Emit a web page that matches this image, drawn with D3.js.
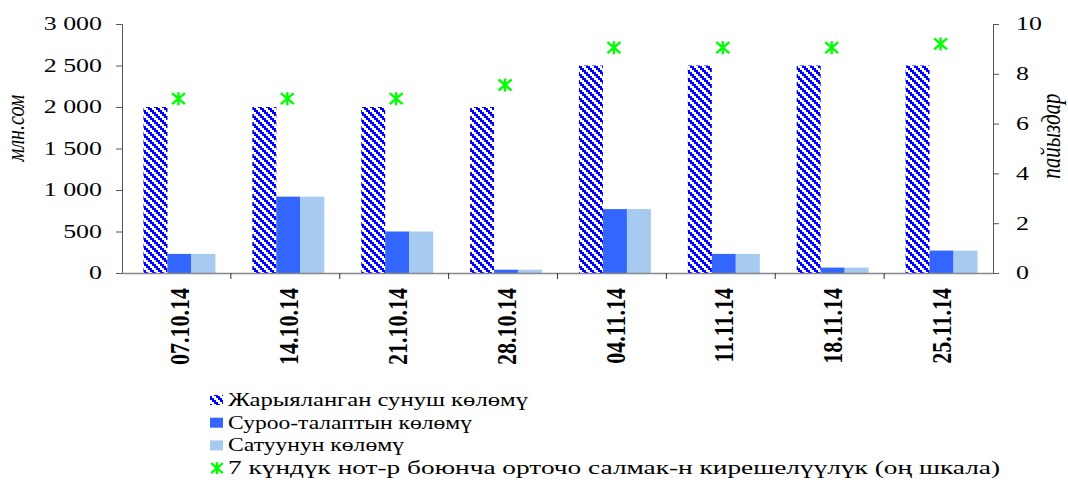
<!DOCTYPE html>
<html>
<head>
<meta charset="utf-8">
<script src="https://cdn.jsdelivr.net/npm/d3@7"></script>
<style>
  body { margin: 0; background: #fff; }
</style>
</head>
<body>
<div id="chart"></div>
<script>
// data
var dates = ["07.10.14", "14.10.14", "21.10.14", "28.10.14", "04.11.14", "11.11.14", "18.11.14", "25.11.14"];
var offer = [2000, 2000, 2000, 2000, 2500, 2500, 2500, 2500];
var demand = [230, 920, 500, 40, 770, 230, 65, 270];
var sales = [230, 920, 500, 40, 770, 230, 65, 270];
var yieldRate = [7.0, 7.0, 7.0, 7.55, 9.05, 9.05, 9.05, 9.2];
var leftTicks = [0, 500, 1000, 1500, 2000, 2500, 3000];
var rightTicks = [0, 2, 4, 6, 8, 10];
var legendNames = [
  "Жарыяланган сунуш көлөмү",
  "Суроо-талаптын көлөмү",
  "Сатуунун көлөмү",
  "7 күндүк нот-р боюнча орточо салмак-н кирешелүүлүк (оң шкала)"
];
// drawn widths of the legend lines (the source font runs wide)
var legendWidths = [300, 244, 176, 772];

var W = 1068, H = 482;
var mLeft = 122, mRight = 993, mTop = 24, mBottom = 273;
var serif = "'Liberation Serif', 'Times New Roman', serif";
var sx = 1.4; // the original text is drawn wide
var sxRot = 1.25;

var svg = d3.select("#chart").append("svg")
  .attr("width", W)
  .attr("height", H)
  .attr("font-family", serif);

// stair-step hatch for the offered volume
var defs = svg.append("defs");
var pat = defs.append("pattern")
  .attr("id", "hatch")
  .attr("patternUnits", "userSpaceOnUse")
  .attr("width", 8)
  .attr("height", 8);
pat.append("rect").attr("width", 8).attr("height", 8).attr("fill", "#fff");
[[0, 0], [2, 2], [4, 4], [6, 6], [-2, 6]].forEach(function (p) {
  pat.append("rect").attr("x", p[0]).attr("y", p[1]).attr("width", 4).attr("height", 2)
    .attr("fill", "#0000ff").attr("shape-rendering", "crispEdges");
});

var x = d3.scaleBand().domain(dates).range([mLeft, mRight]).paddingInner(0).paddingOuter(0);
var inner = d3.scaleBand().domain([0, 1, 2]).range([0, x.bandwidth()]).paddingInner(0).paddingOuter(0.77);
var yL = d3.scaleLinear().domain([0, 3000]).range([mBottom, mTop]);
var yR = d3.scaleLinear().domain([0, 10]).range([mBottom, mTop]);

var series = [
  { vals: offer, fill: "url(#hatch)" },
  { vals: demand, fill: "#3366ff" },
  { vals: sales, fill: "#a6caf0" }
];

series.forEach(function (s, i) {
  svg.append("g").selectAll("rect")
    .data(s.vals)
    .join("rect")
    .attr("x", function (d, j) { return x(dates[j]) + inner(i) + 3; })
    .attr("y", function (d) { return yL(d); })
    .attr("width", inner.bandwidth())
    .attr("height", function (d) { return mBottom - yL(d); })
    .attr("fill", s.fill);
});

// axes
var axL = svg.append("g")
  .attr("transform", "translate(" + mLeft + ",0)")
  .call(d3.axisLeft(yL).tickValues(leftTicks).tickSize(6)
    .tickFormat(function (d) { return d3.format(",")(d).replace(",", " "); }));
var axR = svg.append("g")
  .attr("transform", "translate(" + mRight + ",0)")
  .call(d3.axisRight(yR).tickValues(rightTicks).tickSize(6));
var axB = svg.append("g")
  .attr("transform", "translate(0," + mBottom + ")")
  .call(d3.axisBottom(x).tickSize(0));

[axL, axR, axB].forEach(function (a) {
  a.attr("font-family", serif);
});
[axL, axR].forEach(function (a) {
  a.select(".domain").attr("stroke", "#555");
  a.selectAll(".tick line").attr("stroke", "#555");
  a.selectAll("text").attr("font-size", 18.5).attr("fill", "#000")
    .attr("transform", "scale(" + sx + ",1)");
});
axL.selectAll(".tick text").attr("x", -20 / sx);
axR.selectAll(".tick text").attr("x", 23 / sx);

axB.select(".domain").attr("stroke", "#888").attr("stroke-width", 1.5);
axB.selectAll(".tick text")
  .attr("font-size", 22).attr("font-weight", "bold").attr("fill", "#000")
  .attr("text-anchor", "end")
  .attr("transform", "translate(3,0) scale(" + sxRot + ",1) rotate(-90)")
  .attr("x", -15).attr("y", 0).attr("dy", "0.35em");

// band boundary ticks on the category axis
svg.append("g").selectAll("line")
  .data(dates.slice(1))
  .join("line")
  .attr("x1", function (d) { return x(d); })
  .attr("x2", function (d) { return x(d); })
  .attr("y1", mBottom)
  .attr("y2", mBottom + 6)
  .attr("stroke", "#333");

// yield markers
var star = "M-6.5,-5.5L6.5,5.5M-6.5,5.5L6.5,-5.5M0,-6.5L0,6.5";
svg.append("g").selectAll("path")
  .data(yieldRate)
  .join("path")
  .attr("transform", function (d, j) { return "translate(" + (x(dates[j]) + x.bandwidth() / 2 + 2) + "," + yR(d) + ")"; })
  .attr("d", star)
  .attr("stroke", "#00ff00")
  .attr("stroke-width", 2.4)
  .attr("fill", "none");

// axis titles
svg.append("text")
  .attr("transform", "translate(24,128) scale(" + sxRot + ",1) rotate(-90)")
  .attr("text-anchor", "middle")
  .attr("font-size", 20).attr("font-style", "italic")
  .text("млн.сом");
svg.append("text")
  .attr("transform", "translate(1060,136) scale(" + sxRot + ",1) rotate(-90)")
  .attr("text-anchor", "middle")
  .attr("font-size", 21).attr("font-style", "italic")
  .text("пайыздар");

// legend
var lg = svg.append("g").attr("transform", "translate(210,406)");
legendNames.forEach(function (name, i) {
  var g = lg.append("g").attr("transform", "translate(0," + (i * 22.7) + ")");
  if (i < 3) {
    g.append("rect").attr("x", 0).attr("y", -11).attr("width", 13).attr("height", 10)
      .attr("fill", series[i].fill);
  } else {
    g.append("path").attr("transform", "translate(7,-6) scale(0.9)")
      .attr("d", star).attr("stroke", "#00ff00").attr("stroke-width", 2.6).attr("fill", "none");
  }
  g.append("text").attr("x", 18)
    .attr("font-size", 18.5)
    .attr("textLength", legendWidths[i])
    .attr("lengthAdjust", "spacingAndGlyphs")
    .text(name);
});
</script>
</body>
</html>
